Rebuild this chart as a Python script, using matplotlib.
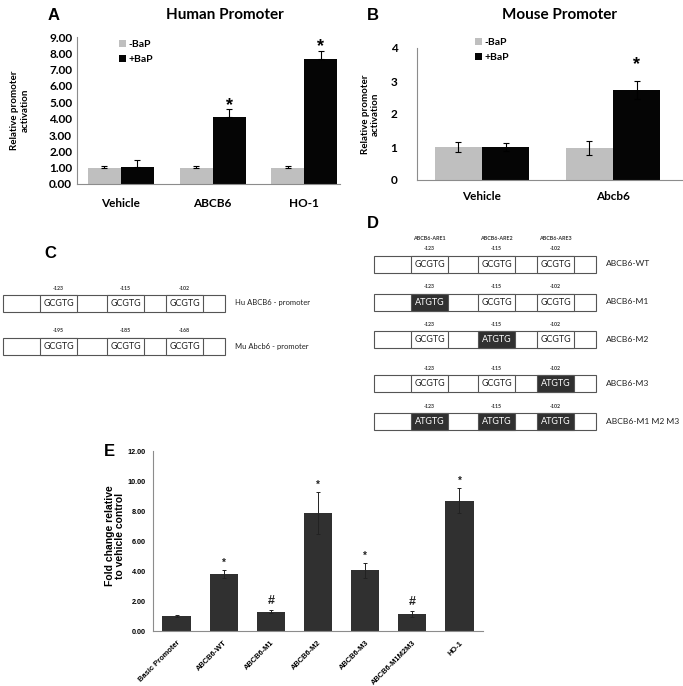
import matplotlib
matplotlib.use("Agg")
import matplotlib.pyplot as plt
from matplotlib.patches import Rectangle
import numpy as np

W, H = 683, 686

# panel A - human promoter
A_groups = ["Vehicle", "ABCB6", "HO-1"]
A_minus = [1.0, 1.0, 1.0]
A_minus_err = [0.1, 0.1, 0.1]
A_plus = [1.03, 4.08, 7.66]
A_plus_err = [0.45, 0.5, 0.5]
A_sig = ["", "*", "*"]

# panel B - mouse promoter
B_groups = ["Vehicle", "Abcb6"]
B_minus = [1.0, 0.97]
B_minus_err = [0.15, 0.2]
B_plus = [1.0, 2.73]
B_plus_err = [0.12, 0.27]
B_sig = ["", "*"]

# panel C - promoter schematics
C_rows = ["Hu ABCB6 - promoter", "Mu Abcb6 - promoter"]
C_sites = [["-123", "-115", "-102"], ["-195", "-185", "-168"]]

# panel D - mutant constructs
D_rows = ["ABCB6-WT", "ABCB6-M1", "ABCB6-M2", "ABCB6-M3", "ABCB6-M1 M2 M3"]
D_elements = ["ABCB6-ARE1", "ABCB6-ARE2", "ABCB6-ARE3"]
D_sites = ["-123", "-115", "-102"]
D_mutated = [[0, 0, 0], [1, 0, 0], [0, 1, 0], [0, 0, 1], [1, 1, 1]]

# panel E - fold change
E_labels = ["Basic Promoter", "ABCB6-WT", "ABCB6-M1", "ABCB6-M2",
            "ABCB6-M3", "ABCB6-M1M2M3", "HO-1"]
E_values = [1.0, 3.83, 1.29, 7.88, 4.05, 1.11, 8.70]
E_err = [0.06, 0.27, 0.08, 1.42, 0.50, 0.20, 0.85]
E_marks = ["", "*", "#", "*", "*", "#", "*"]

GRAY = "#bfbfbf"
BLACK = "#050505"
DARK = "#303030"
SPINE = "#8c8c8c"
CAL = "Lato"
ARIAL = "Liberation Sans"


def px_axes(fig, x0, y0, x1, y1):
    return fig.add_axes([x0 / W, 1 - y1 / H, (x1 - x0) / W, (y1 - y0) / H])


def style_axes(ax):
    for s in ("top", "right"):
        ax.spines[s].set_visible(False)
    for s in ("left", "bottom"):
        ax.spines[s].set_color(SPINE)
        ax.spines[s].set_linewidth(0.8)
    ax.tick_params(length=0)


fig = plt.figure(figsize=(W / 100, H / 100), dpi=100)

# ---- overlay for letters and schematics (pixel coords)
ov = fig.add_axes([0, 0, 1, 1])
ov.set_xlim(0, W)
ov.set_ylim(H, 0)
ov.axis("off")


def promoter(y, x0, sites, mutated=None, elements=None, label=None, label_size=5.5):
    motifs = [(37, 37), (104, 37), (163, 37)]
    total = 222
    h = 17
    ov.add_patch(Rectangle((x0, y - h / 2), total, h, fill=False,
                           edgecolor="#555555", lw=0.8))
    for k, (off, w) in enumerate(motifs):
        mut = mutated is not None and mutated[k]
        ov.add_patch(Rectangle((x0 + off, y - h / 2), w, h,
                               facecolor=DARK if mut else "white",
                               edgecolor="#555555", lw=0.8))
        ov.text(x0 + off + w / 2, y + 0.5, "ATGTG" if mut else "GCGTG",
                ha="center", va="center", fontsize=6.5, family=CAL,
                color="white" if mut else "#222222")
        ov.text(x0 + off + w / 2, y - 15, sites[k], ha="center", va="center",
                fontsize=3.8, family=CAL, fontweight="bold", color="#333333")
        if elements is not None:
            ov.text(x0 + off + w / 2, y - 26, elements[k], ha="center",
                    va="center", fontsize=3.9, family=CAL, fontweight="bold",
                    color="#333333")
    if label:
        ov.text(x0 + total + 10, y, label, ha="left", va="center",
                fontsize=label_size, family=CAL, color="#222222")


for y, sites, lab in zip([303, 346], C_sites, C_rows):
    promoter(y, 3, sites, label=lab)

for i, (y, lab, mut) in enumerate(zip([264, 302, 339, 383, 421], D_rows, D_mutated)):
    promoter(y, 374, D_sites, mutated=mut,
             elements=D_elements if i == 0 else None, label=lab, label_size=6.1)

for letter, (x, y) in zip("ABCDE", [(54, 15), (373, 15), (50, 253), (373, 224), (109, 452)]):
    ov.text(x, y, letter, ha="center", va="center", fontsize=12,
            family=ARIAL, fontweight="bold")

ov.text(225, 15, "Human Promoter", ha="center", va="center", family=CAL,
        fontweight="bold", fontsize=11)
ov.text(560, 15, "Mouse Promoter", ha="center", va="center", family=CAL,
        fontweight="bold", fontsize=11)

# ---- panel A
axA = px_axes(fig, 77, 37, 340, 184)
x = np.arange(len(A_groups))
w = 0.36
ekw = dict(ecolor="black", elinewidth=0.8, capsize=2, capthick=0.8)
axA.bar(x - w / 2, A_minus, w, color=GRAY, label="-BaP",
        yerr=[np.zeros(3), A_minus_err], error_kw=ekw)
axA.bar(x + w / 2, A_plus, w, color=BLACK, label="+BaP",
        yerr=[np.zeros(3), A_plus_err], error_kw=ekw)
for xi, v, e, s in zip(x, A_plus, A_plus_err, A_sig):
    if s:
        axA.text(xi + w / 2, v + e + 0.25, s, ha="center", va="center",
                 fontsize=13, family=ARIAL, fontweight="bold")
axA.set_xlim(-0.48, 2.39)
axA.set_ylim(0, 9)
axA.set_yticks(np.arange(0, 10, 1))
axA.set_yticklabels([f"{v:.2f}" for v in np.arange(0, 10, 1)])
axA.set_xticks(x)
axA.set_xticklabels(A_groups)
style_axes(axA)
axA.tick_params(axis="x", pad=10)
for t in axA.get_xticklabels() + axA.get_yticklabels():
    t.set_fontfamily(CAL)
    t.set_fontweight("bold")
    t.set_fontsize(8.5)
axA.set_ylabel("Relative promoter\nactivation", family=CAL, fontweight="bold",
               fontsize=7)
axA.yaxis.set_label_coords(-0.18, 0.5)
axA.legend(loc="upper left", bbox_to_anchor=(119 / W, 1 - 40 / H),
           bbox_transform=fig.transFigure, frameon=False, handlelength=0.7,
           handleheight=0.7, handletextpad=0.2, labelspacing=0.55,
           borderpad=0, borderaxespad=0,
           prop=dict(family=CAL, weight="bold", size=7.5))

# ---- panel B
axB = px_axes(fig, 417, 48, 682, 180)
x = np.arange(len(B_groups))
axB.bar(x - w / 2, B_minus, w, color=GRAY, label="-BaP",
        yerr=B_minus_err, error_kw=ekw)
axB.bar(x + w / 2, B_plus, w, color=BLACK, label="+BaP",
        yerr=B_plus_err, error_kw=ekw)
for xi, v, e, s in zip(x, B_plus, B_plus_err, B_sig):
    if s:
        axB.text(xi + w / 2, v + e + 0.5, s, ha="center", va="center",
                 fontsize=13, family=ARIAL, fontweight="bold")
axB.set_xlim(-0.496, 1.527)
axB.set_ylim(0, 4)
axB.set_yticks(range(5))
axB.set_xticks(x)
axB.set_xticklabels(B_groups)
style_axes(axB)
axB.tick_params(axis="x", pad=8)
axB.tick_params(axis="y", pad=14)
for t in axB.get_xticklabels() + axB.get_yticklabels():
    t.set_fontfamily(CAL)
    t.set_fontweight("bold")
    t.set_fontsize(8.5)
axB.set_ylabel("Relative promoter\nactivation", family=CAL, fontweight="bold",
               fontsize=7)
axB.yaxis.set_label_coords(-0.14, 0.5)
axB.legend(loc="upper left", bbox_to_anchor=(475 / W, 1 - 38 / H),
           bbox_transform=fig.transFigure, frameon=False, handlelength=0.7,
           handleheight=0.7, handletextpad=0.2, labelspacing=0.55,
           borderpad=0, borderaxespad=0,
           prop=dict(family=CAL, weight="bold", size=7.5))

# ---- panel E
axE = px_axes(fig, 153, 451, 483, 631)
x = np.arange(len(E_labels))
axE.bar(x, E_values, 0.6, color=DARK, yerr=E_err,
        error_kw=dict(ecolor="#222222", elinewidth=0.7, capsize=1.5, capthick=0.7))
for xi, v, e, s in zip(x, E_values, E_err, E_marks):
    if s == "*":
        axE.text(xi, v + e + 0.45, s, ha="center", va="center",
                 fontsize=7, family=ARIAL, fontweight="bold", color="#222222")
    elif s == "#":
        axE.text(xi, v + e + 0.6, s, ha="center", va="center",
                 fontsize=9, family=ARIAL, fontweight="bold", color="#222222")
axE.set_xlim(-0.5, 6.5)
axE.set_ylim(0, 12)
axE.set_yticks(np.arange(0, 13, 2))
axE.set_yticklabels([f"{v:.2f}" for v in np.arange(0, 13, 2)])
axE.set_xticks(x)
axE.set_xticklabels(E_labels, rotation=45, ha="right", rotation_mode="anchor")
style_axes(axE)
axE.tick_params(axis="x", pad=6)
axE.tick_params(axis="y", pad=5)
for t in axE.get_xticklabels():
    t.set_fontfamily(ARIAL)
    t.set_fontweight("bold")
    t.set_fontsize(5.4)
for t in axE.get_yticklabels():
    t.set_fontfamily(ARIAL)
    t.set_fontweight("bold")
    t.set_fontsize(5.2)
axE.set_ylabel("Fold change relative\nto vehicle control", family=ARIAL,
               fontweight="bold", fontsize=7.5, linespacing=0.95)
axE.yaxis.set_label_coords(-0.085, 0.53)

fig.savefig("out.png", dpi=100)
